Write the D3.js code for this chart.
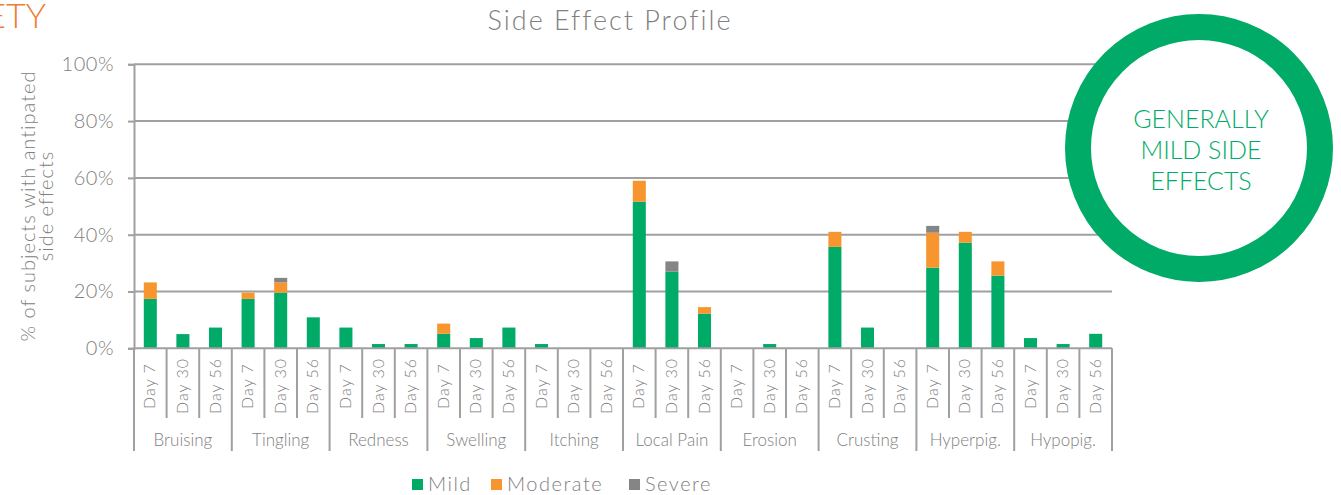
<!DOCTYPE html>
<html>
<head>
<meta charset="utf-8">
<script src="https://cdn.jsdelivr.net/npm/d3@7"></script>
<style>
	body { margin: 0; background: #fff; }
	svg { display: block; font-family: "Century Gothic", "Lato", "DejaVu Sans", sans-serif; font-weight: 300; }
</style>
</head>
<body>
<div id="svg-container"></div>
<script>
// DATA
const groups = ["Bruising", "Tingling", "Redness", "Swelling", "Itching", "Local Pain", "Erosion", "Crusting", "Hyperpig.", "Hypopig."];
const days = ["Day 7", "Day 30", "Day 56"];
const seriesNames = ["Mild", "Moderate", "Severe"];
// percent of subjects, one value per group x day
const mild     = [17.4, 5.0, 7.3,  17.4, 19.6, 10.9,  7.3, 1.5, 1.5,  5.1, 3.6, 7.3,  1.5, 0, 0,  51.6, 27.0, 12.2,  0, 1.5, 0,  35.7, 7.3, 0,  28.4, 37.2, 25.6,  3.6, 1.5, 5.1];
const moderate = [5.8, 0, 0,      2.2, 3.6, 0,      0, 0, 0,      3.6, 0, 0,      0, 0, 0,    7.4, 0, 2.3,       0, 0, 0,    5.3, 0, 0,    12.3, 3.8, 5.0,     0, 0, 0];
const severe   = [0, 0, 0,        0, 1.6, 0,        0, 0, 0,      0, 0, 0,        0, 0, 0,    0, 3.6, 0,         0, 0, 0,    0, 0, 0,      2.4, 0, 0,          0, 0, 0];
const yTicks = [0, 0.2, 0.4, 0.6, 0.8, 1.0];
const calloutLines = ["GENERALLY", "MILD SIDE", "EFFECTS"];

const colors = { Mild: "#00ab67", Moderate: "#f7962f", Severe: "#858585" };
const grey = "#808080";
const lineGrey = "#a0a0a0";

function visualizeData() {
	const w = 1341, h = 495;
	const left = 134, right = 1112, top = 64.3, bottom = 348.3;

	const svg = d3.select('#svg-container').append('svg')
		.attr("width", w)
		.attr("height", h);

	// rows for stacking
	const rows = [];
	groups.forEach((g, gi) => {
		days.forEach((d, di) => {
			const i = gi * 3 + di;
			rows.push({ key: g + "|" + d, group: g, day: d, Mild: mild[i] / 100, Moderate: moderate[i] / 100, Severe: severe[i] / 100 });
		});
	});

	// scales
	const xScale = d3.scaleBand()
		.domain(rows.map(r => r.key))
		.range([left, right])
		.paddingInner(0.6)
		.paddingOuter(0.3);
	const step = xScale.step();
	const bandStart = k => xScale(k) - step * xScale.paddingInner() / 2;
	const yScale = d3.scaleLinear().domain([0, 1]).range([bottom, top]);

	// gridlines
	svg.append("g").selectAll("line")
		.data(yTicks.slice(1))
		.enter().append("line")
		.attr("x1", left).attr("x2", right)
		.attr("y1", d => yScale(d)).attr("y2", d => yScale(d))
		.attr("stroke", lineGrey).attr("stroke-width", 2);

	// y axis
	const yAxis = d3.axisLeft(yScale).tickValues(yTicks).tickFormat(d3.format(".0%")).tickSize(6).tickPadding(14);
	const ya = svg.append("g").attr("transform", `translate(${left},0)`).call(yAxis)
		.attr("font-family", null).attr("font-size", null);
	ya.select(".domain").attr("stroke", lineGrey).attr("stroke-width", 2);
	ya.selectAll(".tick line").attr("stroke", lineGrey).attr("stroke-width", 2);
	ya.selectAll(".tick text").attr("fill", grey).attr("font-size", 20).attr("letter-spacing", 0.5);

	// bars
	const stack = d3.stack().keys(seriesNames);
	const layers = stack(rows);
	svg.append("g").selectAll("g")
		.data(layers)
		.enter().append("g")
		.attr("fill", d => colors[d.key])
		.selectAll("rect")
		.data(d => d)
		.enter().append("rect")
		.attr("x", d => xScale(d.data.key))
		.attr("width", xScale.bandwidth())
		.attr("y", d => yScale(d[1]))
		.attr("height", d => yScale(d[0]) - yScale(d[1]));

	// x axis: baseline, tick separators, labels
	const xa = svg.append("g");
	xa.append("line")
		.attr("x1", left).attr("x2", right)
		.attr("y1", bottom).attr("y2", bottom)
		.attr("stroke", lineGrey).attr("stroke-width", 2);
	const boundaries = rows.map((r, i) => ({ x: bandStart(r.key), major: i % 3 === 0 }));
	boundaries.push({ x: right, major: true });
	xa.selectAll(".sep")
		.data(boundaries)
		.enter().append("line")
		.attr("x1", d => d.x).attr("x2", d => d.x)
		.attr("y1", bottom).attr("y2", d => d.major ? 451 : 418)
		.attr("stroke", lineGrey).attr("stroke-width", 2);
	xa.selectAll(".day")
		.data(rows)
		.enter().append("text")
		.attr("transform", d => `translate(${xScale(d.key) + xScale.bandwidth() / 2 + 5},386) rotate(-90)`)
		.attr("text-anchor", "middle")
		.attr("fill", grey)
		.attr("font-size", 16)
		.attr("letter-spacing", 1)
		.text(d => d.day);
	xa.selectAll(".grp")
		.data(groups)
		.enter().append("text")
		.attr("x", g => (bandStart(g + "|Day 7") + bandStart(g + "|Day 7") + step * 3) / 2)
		.attr("y", 446)
		.attr("text-anchor", "middle")
		.attr("fill", grey)
		.attr("font-size", 17)
		.text(g => g);

	// title
	svg.append("text")
		.attr("x", 610).attr("y", 30)
		.attr("text-anchor", "middle")
		.attr("fill", grey)
		.attr("font-size", 27)
		.attr("letter-spacing", 2)
		.text("Side Effect Profile");

	// cut-off heading
	svg.append("text")
		.attr("x", 46).attr("y", 28)
		.attr("text-anchor", "end")
		.attr("fill", "#ee7d2f")
		.attr("font-size", 34)
		.text("SAFETY");

	// y axis title
	const yt = svg.append("text")
		.attr("transform", "translate(35,206) rotate(-90)")
		.attr("text-anchor", "middle")
		.attr("fill", grey)
		.attr("font-size", 20)
		.attr("letter-spacing", 1);
	yt.append("tspan").attr("x", 0).attr("y", 0).text("% of subjects with antipated");
	yt.append("tspan").attr("x", 0).attr("y", 18).text("side effects");

	// legend
	const legendX = [412, 491, 629];
	const lg = svg.append("g").selectAll("g")
		.data(seriesNames)
		.enter().append("g")
		.attr("transform", (d, i) => `translate(${legendX[i]},479)`);
	lg.append("rect").attr("width", 11).attr("height", 11).attr("fill", d => colors[d]);
	lg.append("text").attr("x", 16).attr("y", 12).attr("fill", grey).attr("font-size", 20)
		.attr("letter-spacing", 1.5).text(d => d);

	// callout circle
	svg.append("circle")
		.attr("cx", 1199).attr("cy", 148)
		.attr("r", 121)
		.attr("fill", "#fff")
		.attr("stroke", "#00ab67")
		.attr("stroke-width", 26);
	svg.append("g").selectAll("text")
		.data(calloutLines)
		.enter().append("text")
		.attr("x", 1201).attr("y", (d, i) => 128 + i * 31)
		.attr("text-anchor", "middle")
		.attr("fill", "#00ab67")
		.attr("font-size", 25)
		.text(d => d);
}

document.addEventListener('DOMContentLoaded', () => {
	visualizeData();
});
</script>
</body>
</html>
